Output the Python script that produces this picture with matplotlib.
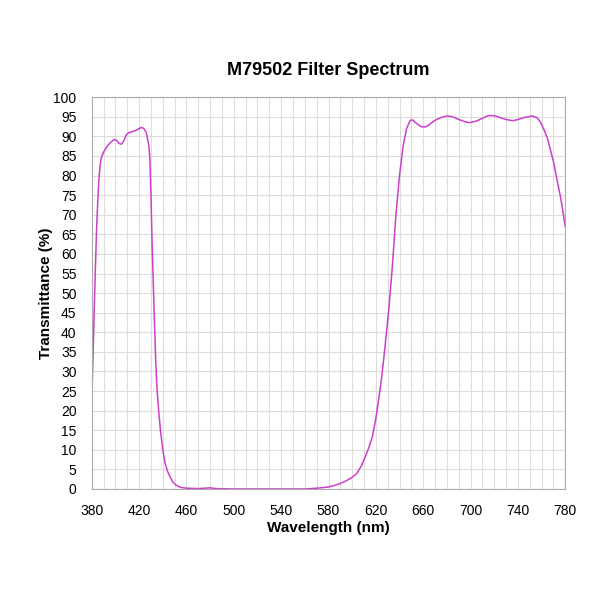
import numpy as np
import matplotlib.pyplot as plt

plt.rcParams['font.family'] = ['Liberation Sans', 'DejaVu Sans']

# Wavelength (nm) and transmittance (%)
wavelength = [380, 382, 383, 384, 385, 386, 387, 388, 390, 393, 396, 399,
              401, 403, 405, 407, 409, 411, 414, 417, 420, 422, 424, 426,
              428, 429, 430, 431, 432, 433, 434, 435, 436.5, 438, 440, 442,
              444, 446, 448, 451, 455, 460, 470, 480, 485, 500, 560, 570,
              580, 585, 590, 595, 600, 604, 608, 611, 614, 617, 620, 622,
              625, 628, 631, 634, 637, 640, 643, 646, 649, 651, 654, 658,
              662, 666, 670, 675, 680, 685, 690, 695, 699, 705, 710, 715,
              720, 725, 730, 736, 740, 745, 752, 756, 759, 762, 765, 768,
              770.5, 773, 776, 778, 780]
transmittance = [22.7, 45, 56, 66, 73, 79, 82.5, 84.5, 86, 87.5, 88.5, 89.2,
                 89, 88.2, 88, 88.8, 90.3, 90.9, 91.2, 91.5, 92, 92.3, 92, 91,
                 88, 85, 75, 62, 52, 42, 33, 26, 20, 15, 10, 6.5,
                 4.5, 3.2, 2, 1, 0.4, 0.2, 0.1, 0.3, 0.1, 0, 0, 0.2,
                 0.5, 0.9, 1.4, 2.1, 3, 4, 6, 8.2, 10.5, 13.3, 18, 22,
                 28.6, 37, 46, 57, 70, 80, 87.5, 92, 94.1, 94.2, 93.4, 92.5,
                 92.4, 93.2, 94.1, 94.8, 95.2, 95.0, 94.3, 93.8, 93.5, 93.9, 94.6, 95.3,
                 95.3, 94.8, 94.3, 94, 94.3, 94.8, 95.2, 94.8, 93.7, 91.8, 89.5, 86,
                 83, 79, 74.6, 71, 67]

x_ticks = np.arange(380, 781, 40)
y_ticks = np.arange(0, 101, 5)

fig = plt.figure(figsize=(6, 6), dpi=100)
ax = fig.add_axes([0.153, 0.185, 0.789, 0.653])

ax.plot(wavelength, transmittance, color='#cc3fcc', linewidth=1.1)

ax.set_xlim(380, 780)
ax.set_ylim(0, 100)
ax.set_xticks(x_ticks)
ax.set_xticks(np.arange(380, 781, 10), minor=True)
ax.set_yticks(y_ticks)
ax.grid(True, which='both', color='#dddddd', linewidth=0.8)
ax.set_axisbelow(True)
ax.tick_params(which='both', length=0, labelsize=10)
ax.tick_params(axis='x', pad=11)
ax.tick_params(axis='y', pad=11)

for side in ax.spines.values():
    side.set_color('#aaaaaa')

ax.set_xlabel('Wavelength (nm)', fontsize=11, fontweight='bold', labelpad=2)
ax.set_ylabel('Transmittance (%)', fontsize=11, fontweight='bold')
ax.yaxis.set_label_coords(-0.083, 0.5)
ax.set_title('M79502 Filter Spectrum', fontsize=13, fontweight='bold', pad=16)

fig.savefig('out.png')
